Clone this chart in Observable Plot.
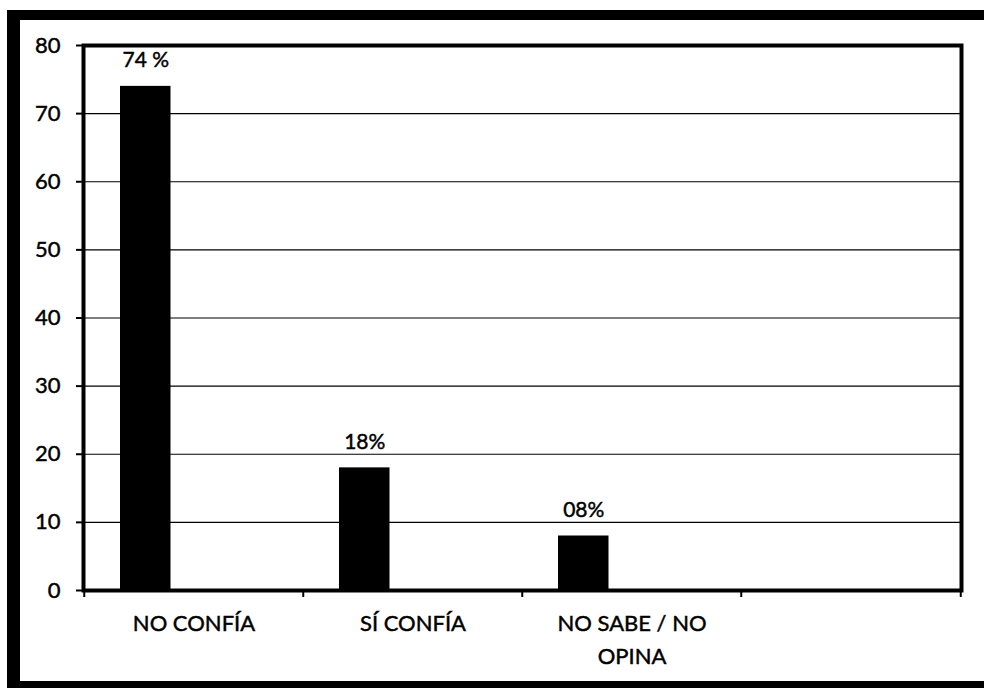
<!DOCTYPE html>
<html>
<head>
<meta charset="utf-8">
<script src="https://cdn.jsdelivr.net/npm/d3@7"></script>
<script src="https://cdn.jsdelivr.net/npm/@observablehq/plot@0.6"></script>
<style>
  html, body { margin: 0; padding: 0; background: #fff; overflow: hidden; }
  #wrap { position: relative; width: 984px; height: 688px; }
  #outer {
    position: absolute; left: 7px; top: 10px; width: 1000px; height: 678px;
    box-sizing: border-box; border-top: 10px solid #000; border-left: 13px solid #000;
    border-bottom: 7px solid #000; pointer-events: none;
  }
  #chart svg text { stroke: #000; stroke-width: 0.45px; }
</style>
</head>
<body>
<div id="wrap"><div id="chart"></div><div id="outer"></div></div>
<script>
const categories = ["NO CONFÍA", "SÍ CONFÍA", "NO SABE / NO OPINA", ""];
const xLabels = ["NO CONFÍA", "SÍ CONFÍA", "NO SABE / NO\nOPINA", ""];
const values = [74, 18, 8];
const valueLabels = ["74 %", "18%", "08%"];
const yTicks = [0, 10, 20, 30, 40, 50, 60, 70, 80];

const data = values.map((v, i) => ({cat: categories[i], value: v, label: valueLabels[i]}));
const W = 984, ML = 83, MR = 23;
const band = (W - ML - MR) / categories.length;

const chart = Plot.plot({
  width: W,
  height: 688,
  marginLeft: ML,
  marginRight: MR,
  marginTop: 45,
  marginBottom: 98,
  style: {fontFamily: "Lato, sans-serif", color: "#000", background: "#fff"},
  x: {type: "band", domain: categories, padding: 0},
  y: {domain: [0, 80]},
  marks: [
    Plot.ruleY(yTicks.filter(d => d > 0 && d < 80), {stroke: "#000", strokeWidth: 1.2}),
    Plot.barY(data, {x: "cat", y: "value", fill: "#000", insetLeft: 36, insetRight: band - 36 - 51}),
    Plot.text(data, {x: "cat", y: "value", text: "label", dx: 61.5 - band / 2, dy: -19, lineAnchor: "bottom", fontSize: 21, fill: "#000"}),
    Plot.ruleX(categories, {x: d => d, y1: 0, y2: 0, dx: -band / 2, insetBottom: -7, stroke: "#000", strokeWidth: 2}),
    Plot.ruleX(categories.slice(-1), {x: d => d, y1: 0, y2: 0, dx: band / 2, insetBottom: -7, stroke: "#000", strokeWidth: 2}),
    Plot.axisY({ticks: yTicks, tickSize: 7, tickPadding: 16, strokeWidth: 2, fontSize: 22, label: null}),
    Plot.axisX({tickSize: 0, tickPadding: 17, fontSize: 22, lineHeight: 1.5, label: null,
      tickFormat: d => xLabels[categories.indexOf(d)]}),
    Plot.frame({stroke: "#000", strokeWidth: 4})
  ]
});
document.getElementById("chart").appendChild(chart);
</script>
</body>
</html>
